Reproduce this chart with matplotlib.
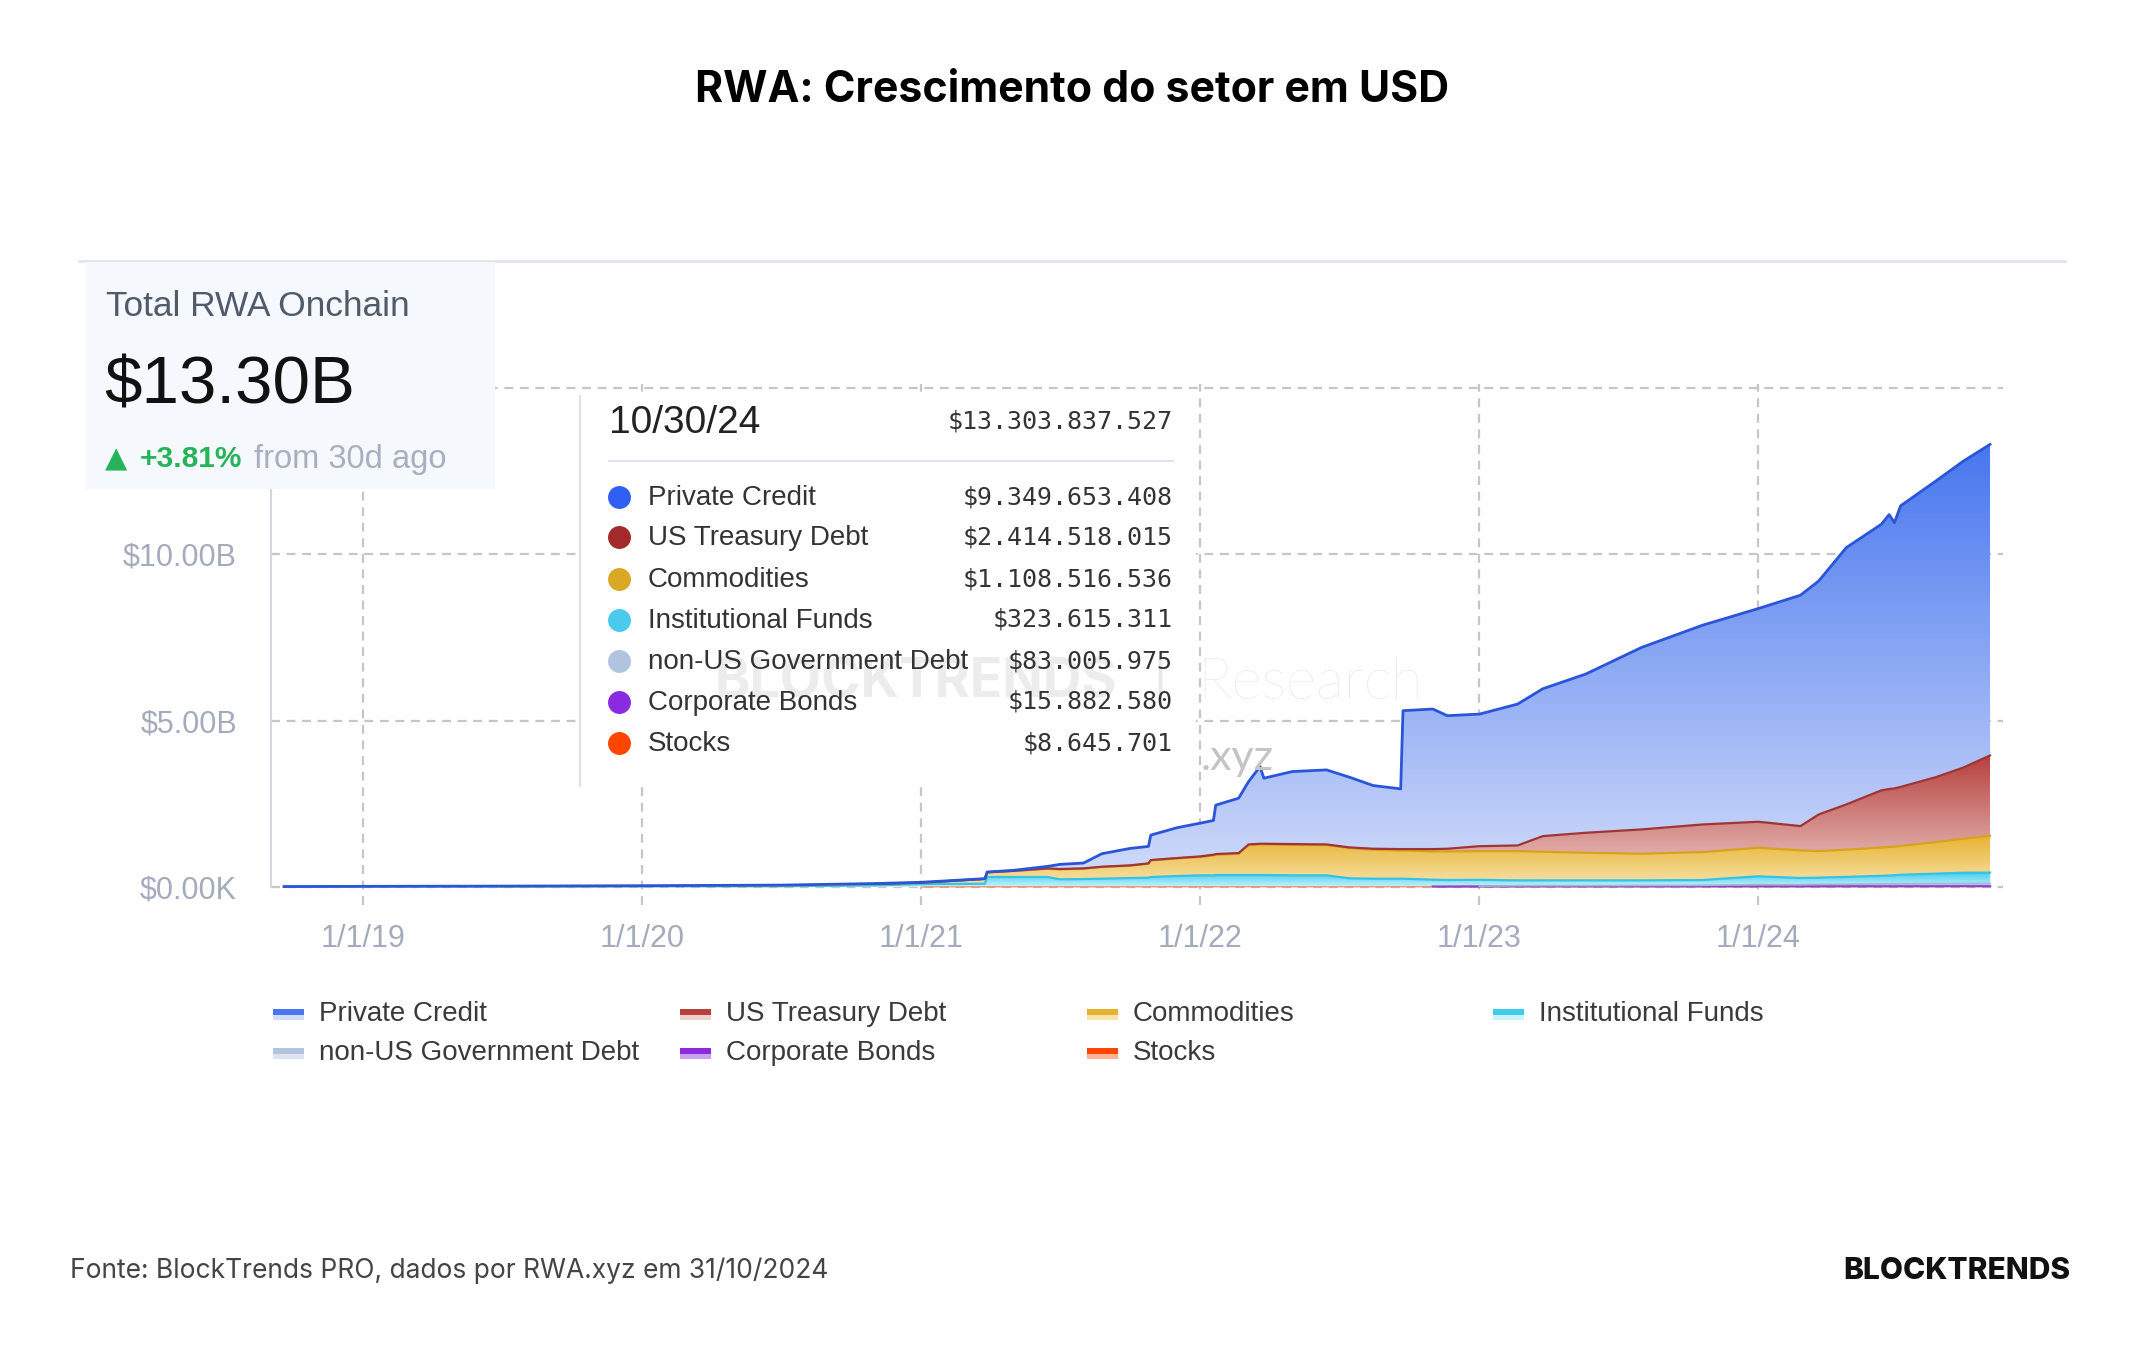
import numpy as np
import matplotlib
matplotlib.use("Agg")
import matplotlib.pyplot as plt
import matplotlib.dates as mdates
from matplotlib.colors import LinearSegmentedColormap
from matplotlib.patches import Rectangle
from matplotlib.lines import Line2D
from datetime import datetime

# ---------------- data (USD billions) ----------------
dates = ["2018-09-20", "2019-01-01", "2019-07-01", "2020-01-01", "2020-07-01", "2020-11-01", "2021-01-01",
         "2021-03-25", "2021-03-28", "2021-05-01", "2021-06-15", "2021-07-01", "2021-08-01", "2021-08-25",
         "2021-10-01", "2021-10-25", "2021-10-28", "2021-12-01", "2022-01-01", "2022-01-18", "2022-01-21",
         "2022-02-20", "2022-03-05", "2022-03-20", "2022-03-25", "2022-05-01", "2022-06-15", "2022-07-15",
         "2022-08-15", "2022-09-20", "2022-09-23", "2022-11-01", "2022-11-20", "2023-01-01", "2023-02-20",
         "2023-03-25", "2023-05-20", "2023-08-01", "2023-10-20", "2024-01-01", "2024-02-25", "2024-03-20",
         "2024-04-25", "2024-06-10", "2024-06-20", "2024-06-27", "2024-07-05", "2024-08-20", "2024-09-25",
         "2024-10-30"]

private_credit = [0.003, 0.005, 0.007, 0.009, 0.010, 0.012, 0.012, 0.010, 0.010, 0.015,
                  0.06, 0.14, 0.16, 0.39, 0.51, 0.51, 0.75, 0.91, 1.00, 1.03,
                  1.47, 1.65, 1.89, 2.32, 1.97, 2.18, 2.24, 2.11, 1.90, 1.81,
                  4.16, 4.21, 4.00, 3.97, 4.25, 4.43, 4.77, 5.47, 5.99, 6.41,
                  6.94, 7.02, 7.72, 8.00, 8.25, 7.99, 8.45, 8.90, 9.21, 9.3497]
us_treasury = [0, 0, 0, 0, 0, 0.002, 0.002, 0.002, 0.002, 0.005,
               0.01, 0.01, 0.01, 0.01, 0.01, 0.01, 0.01, 0.01, 0.02, 0.02,
               0.02, 0.02, 0.02, 0.02, 0.02, 0.02, 0.02, 0.02, 0.03, 0.04,
               0.04, 0.07, 0.08, 0.15, 0.17, 0.47, 0.60, 0.73, 0.83, 0.78,
               0.73, 1.10, 1.36, 1.72, 1.74, 1.75, 1.77, 1.95, 2.14, 2.4145]
commodities = [0, 0, 0.002, 0.010, 0.025, 0.040, 0.040, 0.14, 0.14, 0.18,
               0.25, 0.30, 0.31, 0.35, 0.37, 0.42, 0.50, 0.53, 0.55, 0.60,
               0.61, 0.64, 0.90, 0.92, 0.92, 0.92, 0.91, 0.91, 0.87, 0.85,
               0.85, 0.85, 0.86, 0.86, 0.88, 0.86, 0.83, 0.80, 0.84, 0.86,
               0.83, 0.80, 0.82, 0.85, 0.86, 0.86, 0.87, 0.95, 1.02, 1.1085]
institutional_funds = [0.010, 0.015, 0.018, 0.020, 0.022, 0.050, 0.086, 0.097, 0.297, 0.297,
                       0.297, 0.227, 0.237, 0.247, 0.267, 0.277, 0.297, 0.326, 0.346, 0.346,
                       0.356, 0.356, 0.356, 0.356, 0.356, 0.346, 0.346, 0.256, 0.246, 0.246,
                       0.246, 0.206, 0.196, 0.19, 0.16, 0.16, 0.16, 0.155, 0.16, 0.25,
                       0.20, 0.20, 0.22, 0.245, 0.25, 0.26, 0.27, 0.30, 0.325, 0.3236]
non_us_gov_debt = [0, 0, 0, 0, 0, 0, 0, 0, 0, 0,
                   0, 0, 0, 0, 0, 0, 0, 0, 0, 0,
                   0, 0, 0, 0, 0, 0, 0, 0, 0, 0,
                   0, 0, 0, 0.010, 0.020, 0.020, 0.020, 0.025, 0.030, 0.050,
                   0.050, 0.060, 0.060, 0.070, 0.072, 0.072, 0.075, 0.078, 0.080, 0.0830]
corporate_bonds = [0, 0, 0, 0, 0, 0, 0, 0, 0, 0,
                   0, 0, 0, 0, 0, 0, 0, 0, 0, 0,
                   0, 0, 0, 0, 0, 0, 0, 0, 0, 0,
                   0, 0.010, 0.010, 0.012, 0.014, 0.015, 0.015, 0.015, 0.015, 0.015,
                   0.015, 0.015, 0.015, 0.015, 0.015, 0.015, 0.015, 0.015, 0.016, 0.0159]
stocks = [0, 0, 0, 0, 0, 0, 0.002, 0.003, 0.003, 0.003,
          0.003, 0.003, 0.003, 0.003, 0.003, 0.003, 0.003, 0.004, 0.004, 0.004,
          0.004, 0.004, 0.004, 0.004, 0.004, 0.004, 0.004, 0.004, 0.004, 0.004,
          0.004, 0.004, 0.004, 0.005, 0.005, 0.005, 0.005, 0.005, 0.005, 0.006,
          0.006, 0.006, 0.007, 0.007, 0.007, 0.007, 0.008, 0.008, 0.009, 0.0086]

series_names = ["Private Credit", "US Treasury Debt", "Commodities", "Institutional Funds",
                "non-US Government Debt", "Corporate Bonds", "Stocks"]
tooltip_values = [9349653408, 2414518015, 1108516536, 323615311, 83005975, 15882580, 8645701]
tooltip_total = 13303837527
tooltip_date = "10/30/24"

x_tick_dates = ["2019-01-01", "2020-01-01", "2021-01-01", "2022-01-01", "2023-01-01", "2024-01-01"]
x_tick_labels = ["1/1/19", "1/1/20", "1/1/21", "1/1/22", "1/1/23", "1/1/24"]
y_ticks = [0, 5, 10, 15]
y_tick_labels = ["$0.00K", "$5.00B", "$10.00B", ""]

# ---------------- styles ----------------
# name -> (gradient top, gradient bottom, line color, dot color)
styles = {
    "Private Credit": ("#4776ef", "#d3ddfa", "#2b55d9", "#2f5ff5"),
    "US Treasury Debt": ("#b6403d", "#efd0cd", "#a03535", "#a3292b"),
    "Commodities": ("#e8b230", "#f7e4ad", "#d9a21b", "#dba826"),
    "Institutional Funds": ("#3fcdee", "#c9f1fa", "#34c2e5", "#4acbed"),
    "non-US Government Debt": ("#b0c4de", "#dbe4f0", "#9fb6d6", "#b0c4de"),
    "Corporate Bonds": ("#8a2be2", "#c9a3f0", "#8e44c8", "#8a2be2"),
    "Stocks": ("#ff4500", "#ffb394", "#ff5a1f", "#ff4500"),
}
line_widths = {"Private Credit": 2.0, "US Treasury Debt": 1.6, "Commodities": 1.6,
               "Institutional Funds": 1.6, "non-US Government Debt": 1.2,
               "Corporate Bonds": 1.6, "Stocks": 0.6}

SANS = ["Liberation Sans", "DejaVu Sans"]
W, H = 2144, 1350


def fx(px):
    return px / W


def fy(py):
    return 1 - py / H


fig = plt.figure(figsize=(W / 100, H / 100), dpi=100)
fig.patch.set_facecolor("white")

# ---------------- main axes ----------------
ax = fig.add_axes([fx(271), fy(905), fx(2003) - fx(271), fy(384) - fy(905)])
ax.set_zorder(0)

x = mdates.date2num([datetime.strptime(d, "%Y-%m-%d") for d in dates])
stack_order = [stocks, corporate_bonds, non_us_gov_debt, institutional_funds,
               commodities, us_treasury, private_credit]
stack_names = ["Stocks", "Corporate Bonds", "non-US Government Debt", "Institutional Funds",
               "Commodities", "US Treasury Debt", "Private Credit"]

colls = ax.stackplot(x, *stack_order, colors=[styles[n][0] for n in stack_names], linewidth=0)
tops = np.cumsum(np.array(stack_order, dtype=float), axis=0)

grad = np.linspace(0, 1, 256).reshape(-1, 1)
for coll, top, name in zip(colls, tops, stack_names):
    ctop, cbot, lc, _ = styles[name]
    coll.set_facecolor("none")
    cmap = LinearSegmentedColormap.from_list(name, [cbot, ctop])
    im = ax.imshow(grad, extent=[x[0], x[-1], 0, max(top.max(), 0.05)], origin="lower",
                   cmap=cmap, aspect="auto", zorder=1.5, interpolation="bilinear")
    im.set_clip_path(coll.get_paths()[0], transform=ax.transData)

for top, vals, name in zip(tops, stack_order, stack_names):
    mask = np.array(vals, dtype=float) > 0
    ytop = np.where(mask, top, np.nan)
    ax.plot(x, ytop, color=styles[name][2], lw=line_widths[name], zorder=3,
            solid_joinstyle="round")

ax.set_xlim(mdates.date2num(datetime(2018, 9, 3)), mdates.date2num(datetime(2024, 11, 16)))
ax.set_ylim(-0.541, 15.12)

ax.set_xticks(mdates.date2num([datetime.strptime(d, "%Y-%m-%d") for d in x_tick_dates]))
ax.set_xticklabels(x_tick_labels)
ax.set_yticks(y_ticks)
ax.set_yticklabels(y_tick_labels)
ax.tick_params(axis="both", length=0, labelsize=22, labelcolor="#a3abbd")
ax.tick_params(axis="y", pad=24.5)
ax.tick_params(axis="x", pad=14)
for lab in ax.get_xticklabels() + ax.get_yticklabels():
    lab.set_family(SANS)

ax.grid(True, color="#c6c6c6", lw=1.6, linestyle=(0, (4, 3)), zorder=1)
ax.set_axisbelow(True)
for s in ["top", "right", "bottom"]:
    ax.spines[s].set_visible(False)
ax.spines["left"].set_color("#d3d8e0")
ax.spines["left"].set_linewidth(1.5)
ax.spines["left"].set_bounds(0, 15)
ax.set_facecolor("none")

# ---------------- title / frame ----------------
fig.text(0.5, fy(90), "RWA: Crescimento do setor em USD", ha="center", va="center",
         fontsize=30.8, fontweight="bold", family=["Inter", "DejaVu Sans"], color="#000000")
fig.add_artist(Line2D([fx(79), fx(2065)], [fy(261), fy(261)], color="#e2e5ec", lw=2,
                      transform=fig.transFigure, zorder=2))

# ---------------- Total RWA box ----------------
fig.add_artist(Rectangle((fx(86), fy(489)), fx(495) - fx(86), fy(262) - fy(489),
                         transform=fig.transFigure, facecolor="#f5f8fc", edgecolor="none", zorder=3))
fig.text(fx(106), fy(307), "Total RWA Onchain", ha="left", va="center", fontsize=25.4,
         family=SANS, color="#4f5a6b", zorder=3.5)
fig.text(fx(104), fy(386), "$13.30B", ha="left", va="center", fontsize=48.5,
         family=SANS, color="#111111", zorder=3.5)
fig.text(fx(105), fy(459), "▲", ha="left", va="center", fontsize=21,
         family=["DejaVu Sans"], color="#27b35a", zorder=3.5)
fig.text(fx(140), fy(459), "+3.81%", ha="left", va="center", fontsize=21.5,
         family=SANS, color="#27b35a", fontweight="bold", zorder=3.5)
fig.text(fx(254), fy(459), "from 30d ago", ha="left", va="center", fontsize=23.5,
         family=SANS, color="#a7b0c0", zorder=3.5)

# ---------------- watermark ".xyz" (partially under tooltip) ----------------
fig.text(fx(1201), fy(758), ".xyz", ha="left", va="center", fontsize=31,
         family=["Lato", "DejaVu Sans"], color="#c4c4c4", zorder=3.8)

# ---------------- tooltip ----------------
fig.add_artist(Rectangle((fx(580), fy(787)), fx(1196) - fx(580), fy(396) - fy(787),
                         transform=fig.transFigure, facecolor="white", edgecolor="none", zorder=4))
fig.add_artist(Line2D([fx(580), fx(580)], [fy(396), fy(786)], color="#dde2ea", lw=1.5,
                      transform=fig.transFigure, zorder=4.1))

# watermark BLOCKTRENDS | Research
fig.text(fx(714), fy(683), "BLOCKTRENDS", ha="left", va="center", fontsize=38.5, fontweight="bold",
         family=["Inter", "DejaVu Sans"], color="black", alpha=0.075, zorder=4.5)
fig.text(fx(1160), fy(683), "|", ha="center", va="center", fontsize=38,
         family=["Lato", "DejaVu Sans"], color="black", alpha=0.09, zorder=4.5)
fig.text(fx(1197), fy(683), "Research", ha="left", va="center", fontsize=42, fontweight="light",
         family=["Lato", "DejaVu Sans"], color="black", alpha=0.11, zorder=4.5)


def fmt_usd(v):
    return "$" + f"{v:,}".replace(",", ".")


fig.text(fx(609), fy(423), tooltip_date, ha="left", va="center", fontsize=28,
         family=SANS, color="#222222", zorder=5)
fig.text(fx(1173), fy(421), fmt_usd(tooltip_total), ha="right", va="center", fontsize=18,
         family=["DejaVu Sans Mono"], color="#333333", zorder=5)
fig.add_artist(Line2D([fx(609), fx(1173)], [fy(461), fy(461)], color="#dfe4ee", lw=1.5,
                      transform=fig.transFigure, zorder=5))
row_y = [497, 537, 579, 620, 661, 702, 743]
for name, val, ry in zip(series_names, tooltip_values, row_y):
    fig.add_artist(Line2D([fx(619)], [fy(ry)], marker="o", ms=16.5, color=styles[name][3],
                          markeredgewidth=0, transform=fig.transFigure, zorder=5))
    fig.text(fx(648), fy(ry + 1), name, ha="left", va="center", fontsize=20,
             family=SANS, color="#333333", zorder=5)
    fig.text(fx(1173), fy(ry), fmt_usd(val), ha="right", va="center", fontsize=18,
             family=["DejaVu Sans Mono"], color="#333333", zorder=5)

# ---------------- legend ----------------
leg_cols = [273, 680, 1087, 1493]
leg_rows = [1014, 1053]
for i, name in enumerate(series_names):
    r, c = divmod(i, 4)
    lx, ly = leg_cols[c], leg_rows[r]
    ctop, cbot, lc, _ = styles[name]
    fig.add_artist(Rectangle((fx(lx), fy(ly + 1)), fx(31), 6 / H, transform=fig.transFigure,
                             facecolor=ctop, edgecolor="none", zorder=3))
    fig.add_artist(Rectangle((fx(lx), fy(ly + 6)), fx(31), 5 / H, transform=fig.transFigure,
                             facecolor=cbot, edgecolor="none", zorder=3))
    fig.text(fx(lx + 46), fy(ly), name, ha="left", va="center", fontsize=20,
             family=SANS, color="#3a3a3a", zorder=3)

# ---------------- footer ----------------
fig.text(fx(70), fy(1271), "Fonte: BlockTrends PRO, dados por RWA.xyz em 31/10/2024", ha="left",
         va="center", fontsize=19, family=["Inter", "DejaVu Sans"], color="#444444")
fig.text(fx(2070), fy(1271), "BLOCKTRENDS", ha="right", va="center", fontsize=21.5,
         fontweight="heavy", family=["Inter", "DejaVu Sans"], color="#111111")

fig.savefig("out.png", dpi=100, facecolor="white")
